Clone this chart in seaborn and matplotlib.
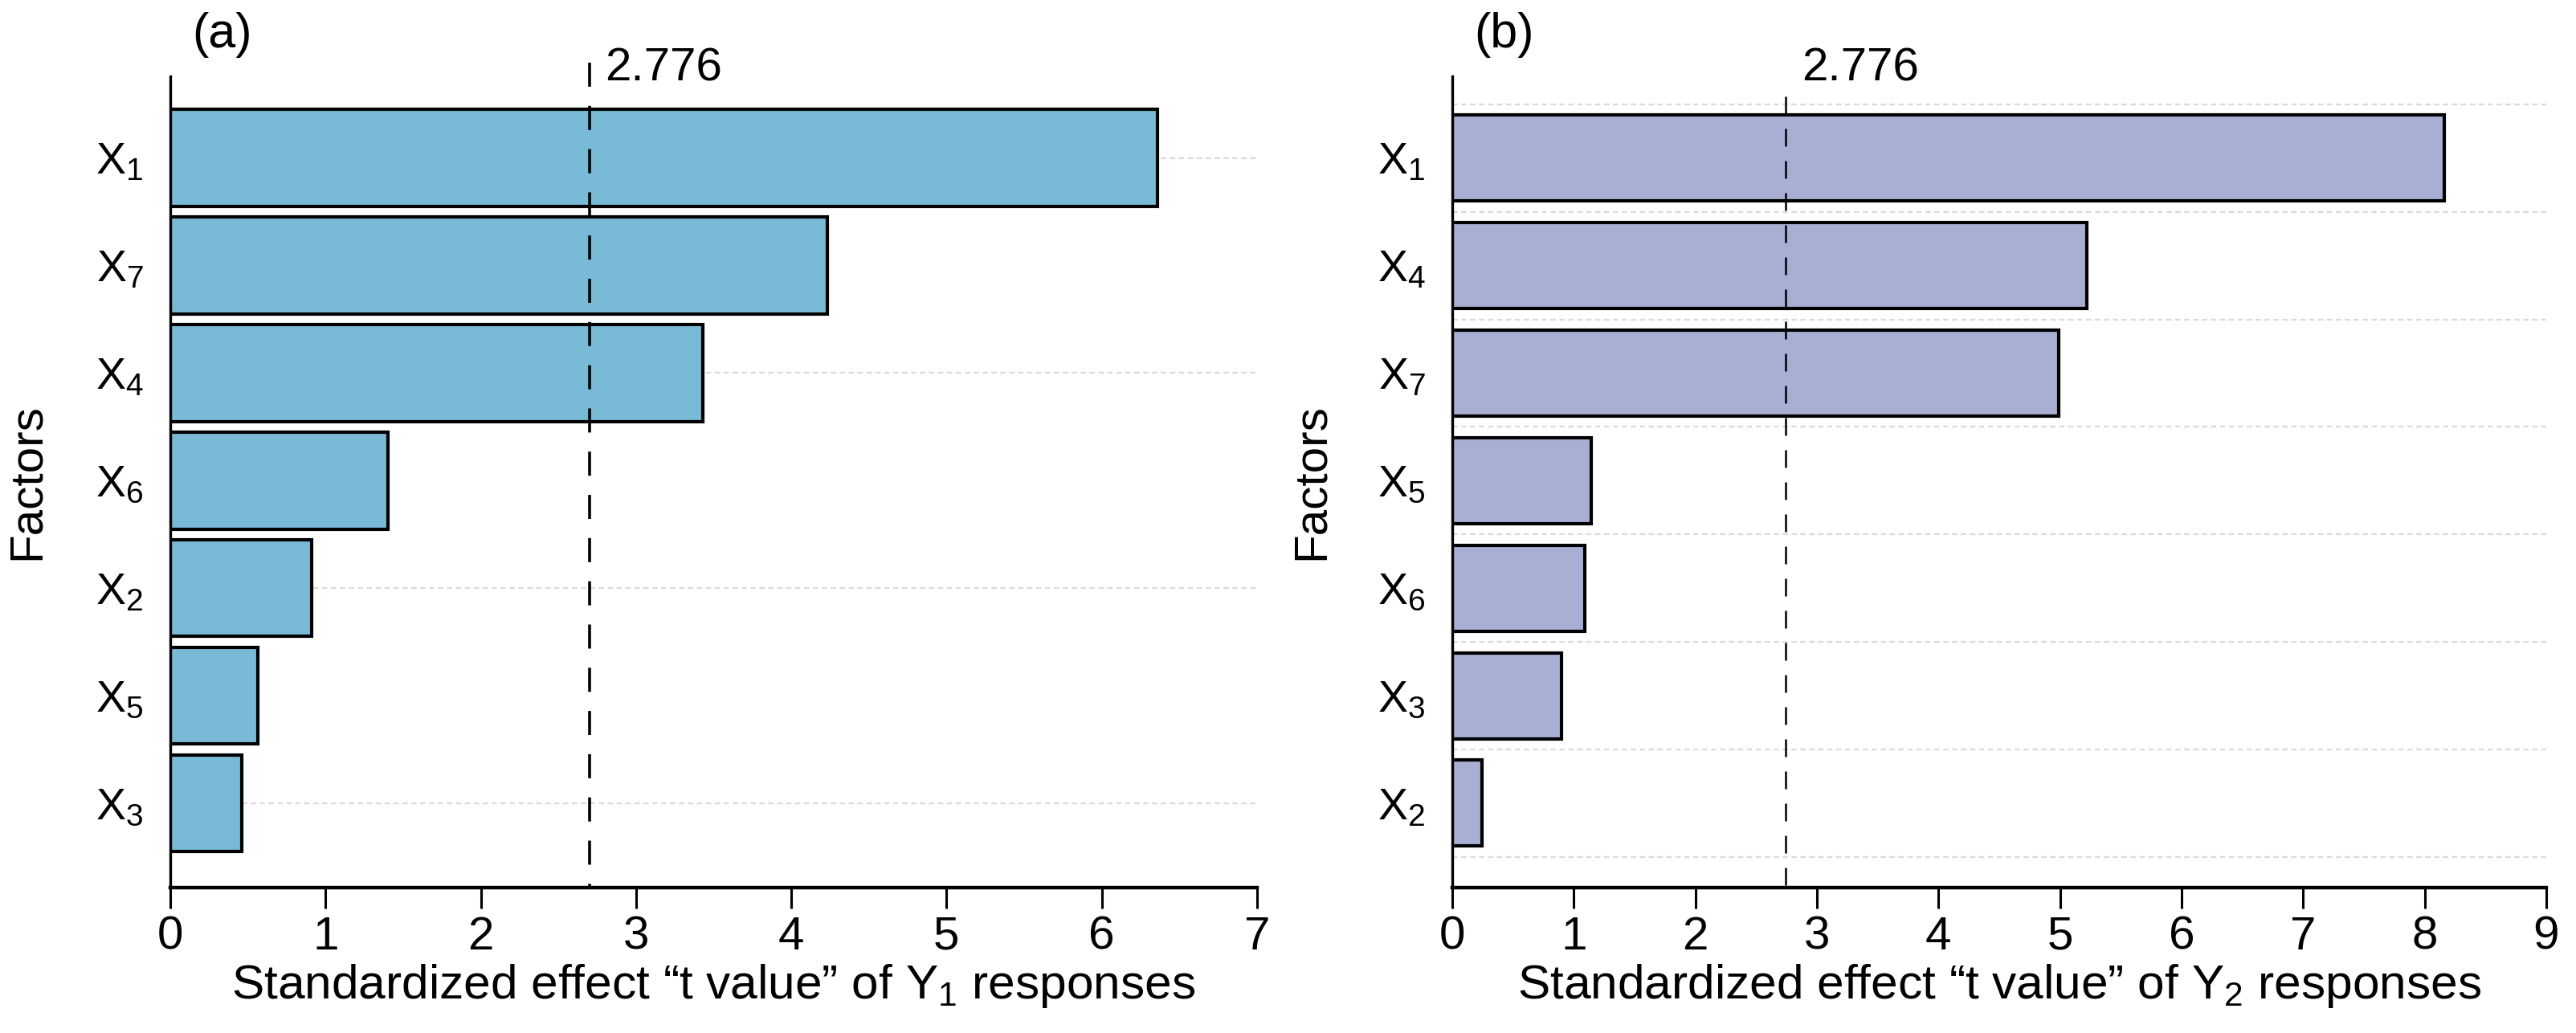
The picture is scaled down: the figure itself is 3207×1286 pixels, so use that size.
import numpy as np
import pandas as pd
import matplotlib
matplotlib.use("Agg")
import matplotlib.pyplot as plt
import seaborn as sns

# ---------------- data ----------------
factors_a = ["X_1", "X_7", "X_4", "X_6", "X_2", "X_5", "X_3"]
tvalues_a = [6.36, 4.23, 3.43, 1.40, 0.91, 0.565, 0.46]

factors_b = ["X_1", "X_4", "X_7", "X_5", "X_6", "X_3", "X_2"]
tvalues_b = [8.16, 5.22, 4.99, 1.14, 1.09, 0.90, 0.245]

t_crit_label = "2.776"
t_crit_line = [2.70, 2.745]      # where the dashed reference line is drawn in (a) and (b)
xticks_a = list(range(0, 8))
xticks_b = list(range(0, 10))
xlabels = ["Standardized effect \u201ct value\u201d of $\\mathregular{Y_1}$ responses",
           "Standardized effect \u201ct value\u201d of $\\mathregular{Y_2}$ responses"]
panel_labels = ["(a)", "(b)"]
ylabel = "Factors"

colors = ["#79BAD6", "#A8AFD4"]

# ---------------- style ----------------
sns.set_theme(style="white")
plt.rcParams["font.family"] = ["Liberation Sans", "DejaVu Sans"]
plt.rcParams["mathtext.fontset"] = "custom"
plt.rcParams["mathtext.rm"] = "Liberation Sans"
plt.rcParams["mathtext.it"] = "Liberation Sans:italic"
plt.rcParams["mathtext.bf"] = "Liberation Sans:bold"

W, H = 3207, 1286
fig = plt.figure(figsize=(W / 100, H / 100), dpi=100)

ax_top, ax_bot = 95, 1105
boxes = [(212, 1565), (1808, 3170)]

panels = [
    dict(f=factors_a, t=tvalues_a, xt=xticks_a, width=0.9, grid="center",
         vline_top=1.017, vlw=2.6, dash=(8.3, 6.6)),
    dict(f=factors_b, t=tvalues_b, xt=xticks_b, width=0.8, grid="edge",
         vline_top=0.975, vlw=1.8, dash=(8.8, 7.2)),
]

for i, p in enumerate(panels):
    l, r = boxes[i]
    ax = fig.add_axes([l / W, 1 - ax_bot / H, (r - l) / W, (ax_bot - ax_top) / H])
    labels = ["$\\mathregular{%s}$" % s for s in p["f"]]
    df = pd.DataFrame({"factor": labels, "t": p["t"]})
    n = len(df)

    # grid lines
    if p["grid"] == "center":
        ys = np.arange(0, n, 2)
    else:
        ys = np.arange(-0.5, n, 1.0)
    for yv in ys:
        ax.axhline(yv, color="#DADADA", lw=1.6, ls=(0, (3, 2)), zorder=0.5)

    sns.barplot(data=df, x="t", y="factor", orient="h", color=colors[i],
                saturation=1, edgecolor="black", linewidth=3.0,
                width=p["width"], ax=ax, zorder=2)

    ax.set_xlim(p["xt"][0], p["xt"][-1])
    ax.set_ylim(n - 1 + 0.785, -0.76)
    ax.set_xticks(p["xt"])
    ax.set_xticklabels([str(v) for v in p["xt"]])

    # dashed critical line (drawn from the top so the pattern starts with a dash there)
    ax.plot([t_crit_line[i], t_crit_line[i]], [p["vline_top"], 0.0],
            transform=ax.get_xaxis_transform(), color="black",
            lw=p["vlw"], ls=(0, p["dash"]), zorder=4, clip_on=False)
    ax.annotate(t_crit_label, xy=(t_crit_line[i], 0.995),
                xycoords=("data", "axes fraction"),
                xytext=(14, 0), textcoords="offset points",
                ha="left", va="baseline", fontsize=42, color="black")

    # panel label
    ax.text(0.02, 1.036, panel_labels[i], transform=ax.transAxes,
            ha="left", va="baseline", fontsize=44, color="black")

    # spines and ticks
    for s in ["top", "right"]:
        ax.spines[s].set_visible(False)
    ax.spines["left"].set_linewidth(2.4)
    ax.spines["bottom"].set_linewidth(3.2)
    ax.spines["left"].set_color("black")
    ax.spines["bottom"].set_color("black")
    ax.tick_params(axis="x", which="major", bottom=True, length=19, width=2.2,
                   pad=6, labelsize=42, direction="out", colors="black")
    ax.tick_params(axis="y", which="major", left=False, length=0, pad=24,
                   labelsize=40, colors="black")

    ax.set_xlabel(xlabels[i], fontsize=43.5, labelpad=3, color="black")
    ax.set_ylabel(ylabel, fontsize=42, color="black")
    ax.yaxis.set_label_coords(-0.112 if i == 0 else -0.109, 0.5)
    ax.grid(False)

fig.savefig("out.png", dpi=100)
